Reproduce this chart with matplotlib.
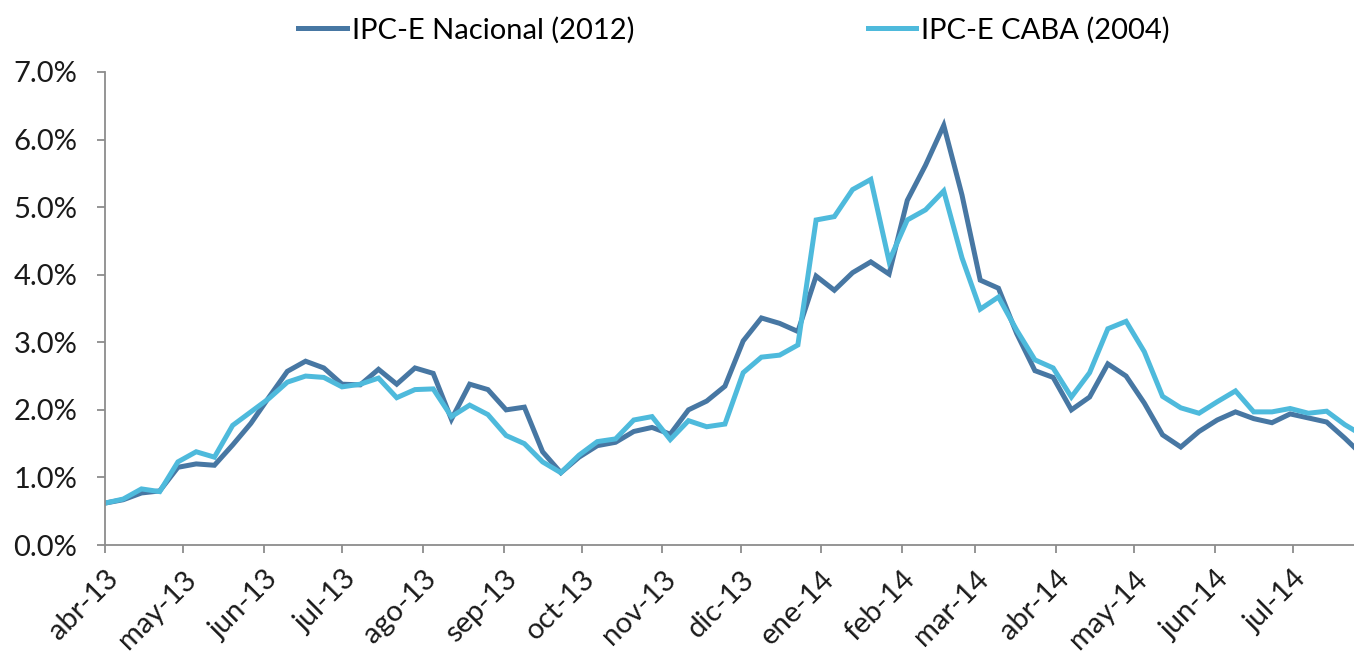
import datetime as dt
from matplotlib import pyplot as plt
import matplotlib.dates as mdates
from matplotlib.ticker import FuncFormatter, MultipleLocator
import numpy as np

# weekly series, starting monday 1 apr 2013
start = dt.date(2013, 4, 1)
nacional = [0.62, 0.67, 0.77, 0.80, 1.15, 1.20, 1.18, 1.48, 1.80, 2.19,
            2.57, 2.72, 2.62, 2.38, 2.37, 2.60, 2.38, 2.62, 2.54, 1.86,
            2.38, 2.30, 2.00, 2.04, 1.38, 1.07, 1.30, 1.47, 1.52, 1.68,
            1.74, 1.64, 2.00, 2.13, 2.35, 3.02, 3.36, 3.28, 3.16, 3.98,
            3.77, 4.03, 4.19, 4.01, 5.10, 5.62, 6.21, 5.18, 3.92, 3.80,
            3.13, 2.58, 2.48, 2.00, 2.19, 2.68, 2.50, 2.10, 1.63, 1.45,
            1.68, 1.85, 1.97, 1.87, 1.81, 1.94, 1.88, 1.82, 1.58, 1.32]
caba = [0.62, 0.68, 0.83, 0.79, 1.23, 1.38, 1.30, 1.77, 1.97, 2.17,
        2.41, 2.50, 2.48, 2.34, 2.38, 2.47, 2.18, 2.30, 2.31, 1.90,
        2.07, 1.93, 1.62, 1.50, 1.23, 1.07, 1.33, 1.53, 1.57, 1.85,
        1.90, 1.56, 1.84, 1.75, 1.79, 2.55, 2.78, 2.81, 2.96, 4.81,
        4.86, 5.26, 5.41, 4.20, 4.81, 4.96, 5.24, 4.25, 3.49, 3.67,
        3.18, 2.74, 2.62, 2.19, 2.55, 3.20, 3.31, 2.86, 2.20, 2.03,
        1.95, 2.12, 2.28, 1.97, 1.97, 2.02, 1.95, 1.98, 1.78, 1.62]
labels = ['IPC-E Nacional (2012)', 'IPC-E CABA (2004)']
meses = ['ene', 'feb', 'mar', 'abr', 'may', 'jun',
         'jul', 'ago', 'sep', 'oct', 'nov', 'dic']

fechas = [start + dt.timedelta(days=7 * i) for i in range(len(nacional))]
fechas = mdates.date2num(fechas)

plt.rcParams['font.family'] = ['Lato', 'DejaVu Sans']

fig = plt.figure(figsize=(13.54, 6.51), dpi=100)
ax = fig.add_axes([105 / 1354, 106 / 651, 1 - 105 / 1354, 473 / 651])

ax.plot(fechas, nacional, color='#4777A3', lw=3.6, label=labels[0], solid_joinstyle='miter')
ax.plot(fechas, caba, color='#4EBADC', lw=3.6, label=labels[1], solid_joinstyle='miter')

ax.set_ylim(0, 7)
ax.set_xlim(fechas[0], mdates.date2num(dt.datetime(2014, 7, 24, 12)))
ax.yaxis.set_major_locator(MultipleLocator(1))
ax.yaxis.set_major_formatter(FuncFormatter(lambda v, p: '%.1f%%' % v))

ax.xaxis.set_major_locator(mdates.MonthLocator())
ax.xaxis.set_major_formatter(FuncFormatter(
    lambda v, p: '%s-%s' % (meses[mdates.num2date(v).month - 1], mdates.num2date(v).strftime('%y'))))

for s in ['top', 'right']:
    ax.spines[s].set_visible(False)
for s in ['left', 'bottom']:
    ax.spines[s].set_color('#8c8c8c')
    ax.spines[s].set_linewidth(1.3)
ax.tick_params(axis='both', colors='#8c8c8c', width=1.3, length=6, labelsize=21,
               labelcolor='#1a1a1a')
ax.tick_params(axis='y', pad=14)
ax.tick_params(axis='x', pad=9)
plt.setp(ax.get_xticklabels(), rotation=45, ha='right', rotation_mode='anchor')

fig.legend(loc='center', bbox_to_anchor=(734 / 1354, 1 - 30 / 651), ncol=2,
           frameon=False, fontsize=21, handlelength=1.65, handletextpad=0.18,
           columnspacing=8.0, borderaxespad=0)

fig.savefig('out.png', dpi=100)
